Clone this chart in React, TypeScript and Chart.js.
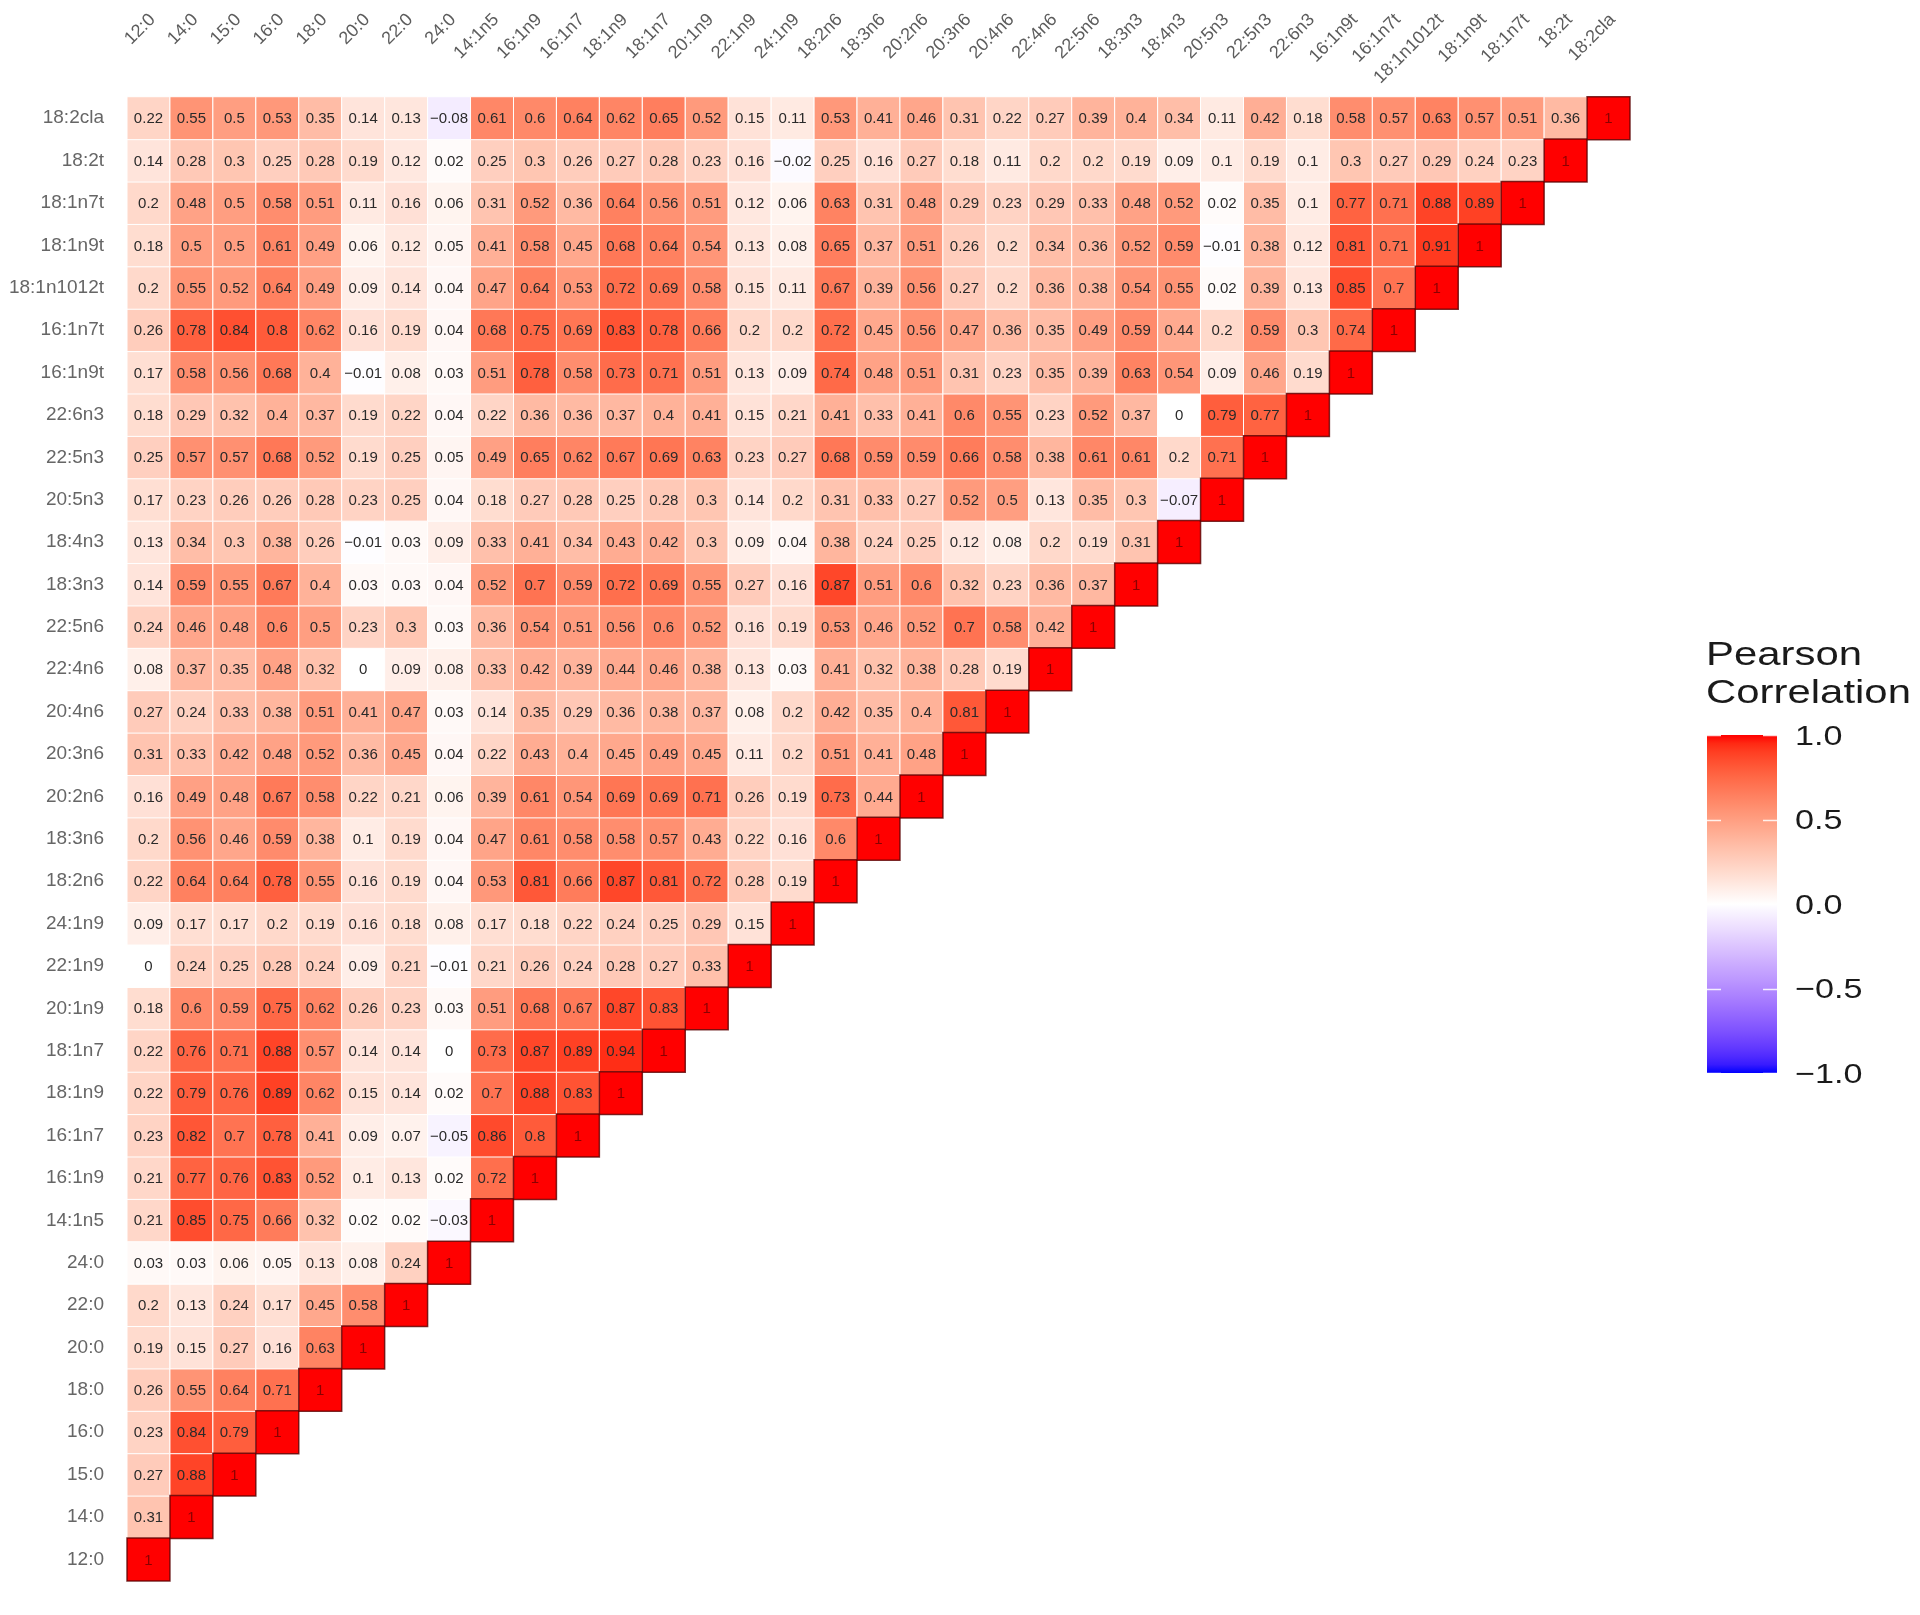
import React, { useEffect, useRef } from 'react';
import { Chart, registerables } from 'chart.js';

Chart.register(...registerables);

// Fatty acid variables (x columns left→right, y rows bottom→top)
const variables = [
  '12:0', '14:0', '15:0', '16:0', '18:0', '20:0', '22:0', '24:0', '14:1n5', '16:1n9',
  '16:1n7', '18:1n9', '18:1n7', '20:1n9', '22:1n9', '24:1n9', '18:2n6', '18:3n6', '20:2n6', '20:3n6',
  '20:4n6', '22:4n6', '22:5n6', '18:3n3', '18:4n3', '20:5n3', '22:5n3', '22:6n3', '16:1n9t', '16:1n7t',
  '18:1n1012t', '18:1n9t', '18:1n7t', '18:2t', '18:2cla',
];

// Lower-triangle Pearson correlations: row r holds values for columns 0..r
const correlations: number[][] = [
  [1],
  [0.31, 1],
  [0.27, 0.88, 1],
  [0.23, 0.84, 0.79, 1],
  [0.26, 0.55, 0.64, 0.71, 1],
  [0.19, 0.15, 0.27, 0.16, 0.63, 1],
  [0.2, 0.13, 0.24, 0.17, 0.45, 0.58, 1],
  [0.03, 0.03, 0.06, 0.05, 0.13, 0.08, 0.24, 1],
  [0.21, 0.85, 0.75, 0.66, 0.32, 0.02, 0.02, -0.03, 1],
  [0.21, 0.77, 0.76, 0.83, 0.52, 0.1, 0.13, 0.02, 0.72, 1],
  [0.23, 0.82, 0.7, 0.78, 0.41, 0.09, 0.07, -0.05, 0.86, 0.8, 1],
  [0.22, 0.79, 0.76, 0.89, 0.62, 0.15, 0.14, 0.02, 0.7, 0.88, 0.83, 1],
  [0.22, 0.76, 0.71, 0.88, 0.57, 0.14, 0.14, 0, 0.73, 0.87, 0.89, 0.94, 1],
  [0.18, 0.6, 0.59, 0.75, 0.62, 0.26, 0.23, 0.03, 0.51, 0.68, 0.67, 0.87, 0.83, 1],
  [0, 0.24, 0.25, 0.28, 0.24, 0.09, 0.21, -0.01, 0.21, 0.26, 0.24, 0.28, 0.27, 0.33, 1],
  [0.09, 0.17, 0.17, 0.2, 0.19, 0.16, 0.18, 0.08, 0.17, 0.18, 0.22, 0.24, 0.25, 0.29, 0.15, 1],
  [0.22, 0.64, 0.64, 0.78, 0.55, 0.16, 0.19, 0.04, 0.53, 0.81, 0.66, 0.87, 0.81, 0.72, 0.28, 0.19, 1],
  [0.2, 0.56, 0.46, 0.59, 0.38, 0.1, 0.19, 0.04, 0.47, 0.61, 0.58, 0.58, 0.57, 0.43, 0.22, 0.16, 0.6, 1],
  [0.16, 0.49, 0.48, 0.67, 0.58, 0.22, 0.21, 0.06, 0.39, 0.61, 0.54, 0.69, 0.69, 0.71, 0.26, 0.19, 0.73, 0.44, 1],
  [0.31, 0.33, 0.42, 0.48, 0.52, 0.36, 0.45, 0.04, 0.22, 0.43, 0.4, 0.45, 0.49, 0.45, 0.11, 0.2, 0.51, 0.41, 0.48, 1],
  [0.27, 0.24, 0.33, 0.38, 0.51, 0.41, 0.47, 0.03, 0.14, 0.35, 0.29, 0.36, 0.38, 0.37, 0.08, 0.2, 0.42, 0.35, 0.4, 0.81, 1],
  [0.08, 0.37, 0.35, 0.48, 0.32, 0, 0.09, 0.08, 0.33, 0.42, 0.39, 0.44, 0.46, 0.38, 0.13, 0.03, 0.41, 0.32, 0.38, 0.28, 0.19, 1],
  [0.24, 0.46, 0.48, 0.6, 0.5, 0.23, 0.3, 0.03, 0.36, 0.54, 0.51, 0.56, 0.6, 0.52, 0.16, 0.19, 0.53, 0.46, 0.52, 0.7, 0.58, 0.42, 1],
  [0.14, 0.59, 0.55, 0.67, 0.4, 0.03, 0.03, 0.04, 0.52, 0.7, 0.59, 0.72, 0.69, 0.55, 0.27, 0.16, 0.87, 0.51, 0.6, 0.32, 0.23, 0.36, 0.37, 1],
  [0.13, 0.34, 0.3, 0.38, 0.26, -0.01, 0.03, 0.09, 0.33, 0.41, 0.34, 0.43, 0.42, 0.3, 0.09, 0.04, 0.38, 0.24, 0.25, 0.12, 0.08, 0.2, 0.19, 0.31, 1],
  [0.17, 0.23, 0.26, 0.26, 0.28, 0.23, 0.25, 0.04, 0.18, 0.27, 0.28, 0.25, 0.28, 0.3, 0.14, 0.2, 0.31, 0.33, 0.27, 0.52, 0.5, 0.13, 0.35, 0.3, -0.07, 1],
  [0.25, 0.57, 0.57, 0.68, 0.52, 0.19, 0.25, 0.05, 0.49, 0.65, 0.62, 0.67, 0.69, 0.63, 0.23, 0.27, 0.68, 0.59, 0.59, 0.66, 0.58, 0.38, 0.61, 0.61, 0.2, 0.71, 1],
  [0.18, 0.29, 0.32, 0.4, 0.37, 0.19, 0.22, 0.04, 0.22, 0.36, 0.36, 0.37, 0.4, 0.41, 0.15, 0.21, 0.41, 0.33, 0.41, 0.6, 0.55, 0.23, 0.52, 0.37, 0, 0.79, 0.77, 1],
  [0.17, 0.58, 0.56, 0.68, 0.4, -0.01, 0.08, 0.03, 0.51, 0.78, 0.58, 0.73, 0.71, 0.51, 0.13, 0.09, 0.74, 0.48, 0.51, 0.31, 0.23, 0.35, 0.39, 0.63, 0.54, 0.09, 0.46, 0.19, 1],
  [0.26, 0.78, 0.84, 0.8, 0.62, 0.16, 0.19, 0.04, 0.68, 0.75, 0.69, 0.83, 0.78, 0.66, 0.2, 0.2, 0.72, 0.45, 0.56, 0.47, 0.36, 0.35, 0.49, 0.59, 0.44, 0.2, 0.59, 0.3, 0.74, 1],
  [0.2, 0.55, 0.52, 0.64, 0.49, 0.09, 0.14, 0.04, 0.47, 0.64, 0.53, 0.72, 0.69, 0.58, 0.15, 0.11, 0.67, 0.39, 0.56, 0.27, 0.2, 0.36, 0.38, 0.54, 0.55, 0.02, 0.39, 0.13, 0.85, 0.7, 1],
  [0.18, 0.5, 0.5, 0.61, 0.49, 0.06, 0.12, 0.05, 0.41, 0.58, 0.45, 0.68, 0.64, 0.54, 0.13, 0.08, 0.65, 0.37, 0.51, 0.26, 0.2, 0.34, 0.36, 0.52, 0.59, -0.01, 0.38, 0.12, 0.81, 0.71, 0.91, 1],
  [0.2, 0.48, 0.5, 0.58, 0.51, 0.11, 0.16, 0.06, 0.31, 0.52, 0.36, 0.64, 0.56, 0.51, 0.12, 0.06, 0.63, 0.31, 0.48, 0.29, 0.23, 0.29, 0.33, 0.48, 0.52, 0.02, 0.35, 0.1, 0.77, 0.71, 0.88, 0.89, 1],
  [0.14, 0.28, 0.3, 0.25, 0.28, 0.19, 0.12, 0.02, 0.25, 0.3, 0.26, 0.27, 0.28, 0.23, 0.16, -0.02, 0.25, 0.16, 0.27, 0.18, 0.11, 0.2, 0.2, 0.19, 0.09, 0.1, 0.19, 0.1, 0.3, 0.27, 0.29, 0.24, 0.23, 1],
  [0.22, 0.55, 0.5, 0.53, 0.35, 0.14, 0.13, -0.08, 0.61, 0.6, 0.64, 0.62, 0.65, 0.52, 0.15, 0.11, 0.53, 0.41, 0.46, 0.31, 0.22, 0.27, 0.39, 0.4, 0.34, 0.11, 0.42, 0.18, 0.58, 0.57, 0.63, 0.57, 0.51, 0.36, 1],
];

const legendTicks = [1, 0.5, 0, -0.5, -1];
const legendTickLabels = ['1.0', '0.5', '0.0', '\u22120.5', '\u22121.0'];
const legendTitle = ['Pearson', 'Correlation'];

// ---------- colour scale (blue - white - red, interpolated in CIE Lab) ----------
function toLin(c: number) { c /= 255; return c <= 0.04045 ? c / 12.92 : Math.pow((c + 0.055) / 1.055, 2.4); }
function fromLin(c: number) {
  const v = c <= 0.0031308 ? 12.92 * c : 1.055 * Math.pow(c, 1 / 2.4) - 0.055;
  return Math.round(Math.max(0, Math.min(1, v)) * 255);
}
const Xn = 0.95047, Yn = 1, Zn = 1.08883;
function f(t: number) { return t > 216 / 24389 ? Math.cbrt(t) : (24389 / 27 * t + 16) / 116; }
function finv(t: number) { const t3 = t * t * t; return t3 > 216 / 24389 ? t3 : (116 * t - 16) / (24389 / 27); }
function rgbToLab(r: number, g: number, b: number) {
  const R = toLin(r), G = toLin(g), B = toLin(b);
  const X = 0.4124 * R + 0.3576 * G + 0.1805 * B;
  const Y = 0.2126 * R + 0.7152 * G + 0.0722 * B;
  const Z = 0.0193 * R + 0.1192 * G + 0.9505 * B;
  const fx = f(X / Xn), fy = f(Y / Yn), fz = f(Z / Zn);
  return [116 * fy - 16, 500 * (fx - fy), 200 * (fy - fz)];
}
function labToRgb(L: number, a: number, b: number) {
  const fy = (L + 16) / 116, fx = fy + a / 500, fz = fy - b / 200;
  const X = Xn * finv(fx), Y = Yn * finv(fy), Z = Zn * finv(fz);
  const R = 3.2406 * X - 1.5372 * Y - 0.4986 * Z;
  const G = -0.9689 * X + 1.8758 * Y + 0.0415 * Z;
  const B = 0.0557 * X - 0.204 * Y + 1.057 * Z;
  return `rgb(${fromLin(R)},${fromLin(G)},${fromLin(B)})`;
}
const LAB_LOW = rgbToLab(0, 0, 255);
const LAB_MID = rgbToLab(255, 255, 255);
const LAB_HIGH = rgbToLab(255, 0, 0);
function corrColor(v: number) {
  const t = Math.max(-1, Math.min(1, v));
  const end = t >= 0 ? LAB_HIGH : LAB_LOW;
  const k = Math.abs(t);
  return labToRgb(
    LAB_MID[0] + (end[0] - LAB_MID[0]) * k,
    LAB_MID[1] + (end[1] - LAB_MID[1]) * k,
    LAB_MID[2] + (end[2] - LAB_MID[2]) * k,
  );
}
function fmt(v: number) { return String(v).replace('-', '\u2212'); }

const FONT = '"Liberation Sans", Arial, sans-serif';

function cellSide(chart: any) {
  const x = chart.scales?.x;
  if (!x) return 43;
  return Math.abs(x.getPixelForValue(1) - x.getPixelForValue(0));
}

const cellTextPlugin = {
  id: 'cellText',
  afterDatasetsDraw(chart: any) {
    const { ctx, scales } = chart;
    const xs = scales.x, ys = scales.y;
    ctx.save();
    ctx.font = `15px ${FONT}`;
    ctx.textAlign = 'center';
    ctx.textBaseline = 'middle';
    correlations.forEach((row, r) => row.forEach((v, c) => {
      ctx.fillStyle = v === 1 ? 'rgba(110,0,0,0.8)' : '#2a2a2a';
      ctx.fillText(fmt(v), xs.getPixelForValue(c), ys.getPixelForValue(r) + 1);
    }));
    ctx.restore();
  },
};

const topLabelsPlugin = {
  id: 'topLabels',
  afterDraw(chart: any) {
    const { ctx, scales } = chart;
    ctx.save();
    ctx.font = `18px ${FONT}`;
    ctx.fillStyle = '#5c5c5c';
    ctx.textAlign = 'right';
    ctx.textBaseline = 'middle';
    variables.forEach((name, i) => {
      const px = scales.x.getPixelForValue(i) + 4;
      ctx.save();
      ctx.translate(px, 17);
      ctx.rotate(-Math.PI / 4);
      ctx.fillText(name, 0, 0);
      ctx.restore();
    });
    ctx.restore();
  },
};

const colorbarPlugin = {
  id: 'colorbar',
  afterDraw(chart: any) {
    const { ctx } = chart;
    const x0 = 1707, w = 70, top = 735, bottom = 1073;
    const yOf = (v: number) => bottom - ((v + 1) / 2) * (bottom - top);
    ctx.save();
    // title
    ctx.fillStyle = '#1a1a1a';
    ctx.font = `33px ${FONT}`;
    ctx.textAlign = 'left';
    ctx.textBaseline = 'alphabetic';
    const titleY = [665, 703];
    legendTitle.forEach((t, i) => {
      ctx.save();
      ctx.translate(1706, titleY[i]);
      ctx.scale(1.27, 1);
      ctx.fillText(t, 0, 0);
      ctx.restore();
    });
    // bar
    const grad = ctx.createLinearGradient(0, bottom, 0, top);
    const n = 40;
    for (let i = 0; i <= n; i++) grad.addColorStop(i / n, corrColor(-1 + (2 * i) / n));
    ctx.fillStyle = grad;
    ctx.fillRect(x0, top, w, bottom - top);
    // ticks
    ctx.strokeStyle = 'rgba(255,255,255,0.85)';
    ctx.lineWidth = 1.5;
    legendTicks.forEach((v) => {
      const y = Math.round(yOf(v)) + 0.5;
      ctx.beginPath();
      ctx.moveTo(x0, y); ctx.lineTo(x0 + 14, y);
      ctx.moveTo(x0 + w - 14, y); ctx.lineTo(x0 + w, y);
      ctx.stroke();
    });
    // labels
    ctx.fillStyle = '#1a1a1a';
    ctx.font = `28px ${FONT}`;
    ctx.textBaseline = 'middle';
    legendTicks.forEach((v, i) => {
      ctx.save();
      ctx.translate(1795, yOf(v) + 2);
      ctx.scale(1.22, 1);
      ctx.fillText(legendTickLabels[i], 0, 0);
      ctx.restore();
    });
    ctx.restore();
  },
};

export default function App() {
  const ref = useRef<HTMLCanvasElement>(null);
  useEffect(() => {
    const canvas = ref.current;
    if (!canvas) return;
    const off: any[] = [];
    const diag: any[] = [];
    correlations.forEach((row, r) => row.forEach((v, c) => {
      (c === r ? diag : off).push({ x: c, y: r, v });
    }));
    const cells = off.concat(diag);
    const chart = new Chart(canvas, {
      type: 'scatter',
      data: {
        datasets: [{
          data: cells,
          clip: false as any,
          pointStyle: 'rect',
          pointRadius: (ctx: any) => cellSide(ctx.chart) / Math.SQRT2,
          pointHoverRadius: (ctx: any) => cellSide(ctx.chart) / Math.SQRT2,
          backgroundColor: (ctx: any) => (ctx.raw ? corrColor(ctx.raw.v) : '#fff'),
          borderColor: (ctx: any) => (ctx.raw && ctx.raw.x === ctx.raw.y ? 'rgba(90,0,0,0.8)' : '#ffffff'),
          borderWidth: (ctx: any) => (ctx.raw && ctx.raw.x === ctx.raw.y ? 1.5 : 1),
        } as any],
      },
      options: {
        animation: false,
        responsive: false,
        devicePixelRatio: 1,
        events: [],
        layout: { padding: { top: 97, bottom: 10, left: 0, right: 290 } },
        plugins: { legend: { display: false }, tooltip: { enabled: false } },
        scales: {
          x: { type: 'linear', min: -0.5, max: 34.5, display: false },
          y: {
            type: 'linear',
            min: -0.5,
            max: 34.5,
            afterBuildTicks: (scale: any) => { scale.ticks = variables.map((_, i) => ({ value: i })); },
            afterFit: (scale: any) => { scale.width = 127; },
            grid: { display: false, drawTicks: false },
            border: { display: false },
            ticks: {
              autoSkip: false,
              padding: 23,
              color: '#666666',
              font: { family: FONT, size: 19 },
              callback: (v: any) => variables[Number(v)] ?? '',
            },
          },
        },
      } as any,
      plugins: [cellTextPlugin, topLabelsPlugin, colorbarPlugin],
    });
    return () => chart.destroy();
  }, []);
  return (
    <div style={{ position: 'absolute', left: 0, top: 0, width: 1920, height: 1615, background: '#fff' }}>
      <canvas ref={ref} width={1920} height={1615} style={{ display: 'block', width: 1920, height: 1615 }} />
    </div>
  );
}
